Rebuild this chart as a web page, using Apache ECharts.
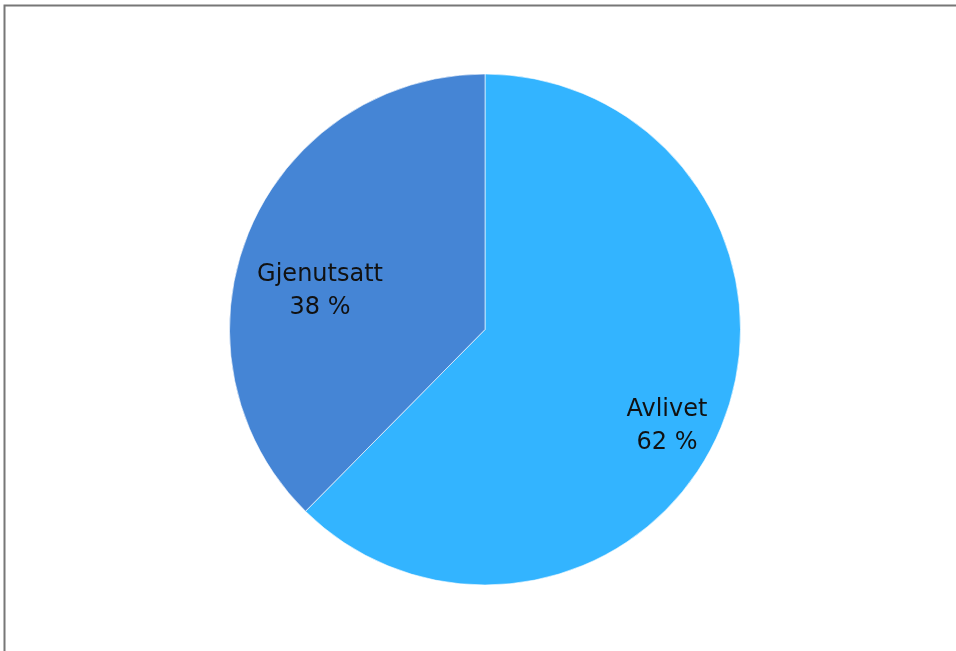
<!DOCTYPE html>
<html>
<head>
<meta charset="utf-8">
<script src="https://cdn.jsdelivr.net/npm/echarts@6/dist/echarts.min.js"></script>
<style>
  html, body { margin: 0; padding: 0; background: #ffffff; }
  #chart { width: 956px; height: 651px; }
</style>
</head>
<body>
<div id="chart"></div>
<script>
  // kategorier og verdier (prosent)
  const categories = ['Avlivet', 'Gjenutsatt'];
  const values = [62.4, 37.6];
  const colors = ['#33B4FF', '#4585D5'];
  // etikettforskyvning (px) fra standard inside-posisjon
  const labelOffsets = [[61, 47], [-44, 11]];

  const chart = echarts.init(document.getElementById('chart'));

  chart.setOption({
    animation: false,
    graphic: [{
      type: 'rect',
      shape: { x: 4.5, y: 5.5, width: 1200, height: 1200 },
      style: { fill: 'none', stroke: '#777777', lineWidth: 2 },
      silent: true
    }],
    series: [{
      name: 'Andel',
      type: 'pie',
      center: [485, 329.5],
      radius: 255.5,
      startAngle: 90,
      clockwise: true,
      avoidLabelOverlap: false,
      itemStyle: {
        borderColor: 'rgba(255,255,255,0.6)',
        borderWidth: 1
      },
      label: {
        show: true,
        position: 'inside',
        color: '#111111',
        fontFamily: 'DejaVu Sans',
        fontSize: 24,
        lineHeight: 33,
        formatter(v) {
          return v.name + '\n' + Math.round(v.percent) + ' %';
        }
      },
      labelLine: { show: false },
      emphasis: { disabled: true },
      data: categories.map((c, i) => ({
        name: c,
        value: values[i],
        itemStyle: { color: colors[i] },
        label: { offset: labelOffsets[i] }
      }))
    }]
  });
</script>
</body>
</html>
